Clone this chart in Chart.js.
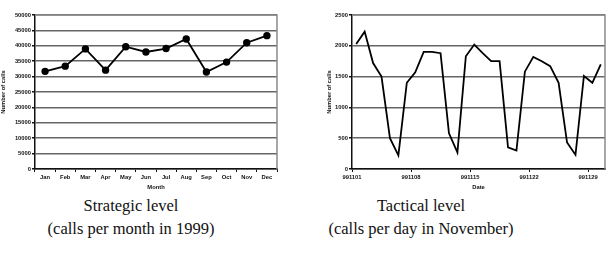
<!DOCTYPE html>
<html>
<head>
<meta charset="utf-8">
<script src="https://cdn.jsdelivr.net/npm/chart.js@4.4.1/dist/chart.umd.min.js"></script>
<style>
  body { margin: 0; background: #fff; width: 609px; height: 254px; overflow: hidden; position: relative; }
  .box { position: absolute; top: 0; }
  .cap { position: absolute; font-family: "Liberation Serif", "DejaVu Serif", serif; font-size: 16.5px; color: #111; text-align: center; white-space: nowrap; }
</style>
</head>
<body>
<div class="box" style="left:0;width:300px;height:195px"><canvas id="monthChart" width="300" height="195"></canvas></div>
<div class="box" style="left:300px;width:309px;height:195px"><canvas id="dayChart" width="309" height="195"></canvas></div>
<div class="cap" style="left:31px;width:200px;top:196px">Strategic level</div>
<div class="cap" style="left:31px;width:200px;top:219px">(calls per month in 1999)</div>
<div class="cap" style="left:321px;width:200px;top:196px">Tactical level</div>
<div class="cap" style="left:321px;width:200px;top:219px">(calls per day in November)</div>
<script>
const months = ["Jan", "Feb", "Mar", "Apr", "May", "Jun", "Jul", "Aug", "Sep", "Oct", "Nov", "Dec"];
const monthCalls = [31700, 33400, 39000, 32100, 39700, 38000, 39100, 42200, 31500, 34700, 41000, 43300];

const days = ["991101", "991102", "991103", "991104", "991105", "991106", "991107",
              "991108", "991109", "991110", "991111", "991112", "991113", "991114",
              "991115", "991116", "991117", "991118", "991119", "991120", "991121",
              "991122", "991123", "991124", "991125", "991126", "991127", "991128",
              "991129", "991130"];
const dayCalls = [2030, 2230, 1720, 1500, 500, 220, 1400, 1570, 1900, 1900,
                  1880, 580, 270, 1830, 2020, 1880, 1750, 1750, 350, 300,
                  1580, 1820, 1750, 1670, 1400, 430, 230, 1510, 1400, 1700];
const dayTickIdx = [0, 7, 14, 21, 28];

const smallFont = { family: "'Liberation Sans', Arial, sans-serif", size: 5.8, weight: "bold" };
Chart.defaults.color = "#111";
Chart.defaults.animation = false;

// grey frame on top and right, like the spreadsheet plot area
const frame = {
    id: "frame",
    afterDraw(chart) {
        const a = chart.chartArea, ctx = chart.ctx;
        ctx.save();
        ctx.strokeStyle = "#8a8a8a";
        ctx.lineWidth = 1.5;
        ctx.beginPath();
        ctx.moveTo(a.left, a.top);
        ctx.lineTo(a.right, a.top);
        ctx.lineTo(a.right, a.bottom);
        ctx.stroke();
        ctx.restore();
    }
};

function yScale(max, step, width) {
    return {
        min: 0, max: max,
        ticks: { stepSize: step, font: smallFont, padding: 1, callback: v => String(v) },
        border: { color: "#111", width: 1.5 },
        grid: { color: "#666", lineWidth: 1.5, tickLength: 3, tickColor: "#111" },
        title: { display: true, text: "Number of calls", font: smallFont, padding: { top: 0, bottom: 0 } },
        afterFit: s => { s.width = width; }
    };
}

new Chart(document.getElementById("monthChart"), {
    type: "line",
    data: {
        labels: months,
        datasets: [{
            data: monthCalls,
            borderColor: "#000",
            backgroundColor: "#000",
            borderWidth: 1.8,
            pointRadius: 2.8,
            pointHoverRadius: 2.8,
            tension: 0
        }]
    },
    options: {
        responsive: false,
        layout: { padding: { left: 0, right: 23, top: 15, bottom: 0 } },
        plugins: { legend: { display: false }, tooltip: { enabled: false } },
        scales: {
            x: {
                offset: true,
                ticks: { font: smallFont, padding: 2, maxRotation: 0, autoSkip: false },
                border: { color: "#111", width: 1.5 },
                grid: { offset: true, drawOnChartArea: false, tickLength: 3, color: "#111" },
                title: { display: true, text: "Month", font: smallFont, padding: { top: 2, bottom: 4 } },
                afterFit: s => { s.height = 26; }
            },
            y: yScale(50000, 5000, 35)
        }
    },
    plugins: [frame]
});

new Chart(document.getElementById("dayChart"), {
    type: "line",
    data: {
        datasets: [{
            data: dayCalls.map((v, i) => ({ x: i + 1, y: v })),
            borderColor: "#000",
            borderWidth: 1.8,
            pointRadius: 0,
            tension: 0
        }]
    },
    options: {
        responsive: false,
        layout: { padding: { left: 26, right: 4, top: 15, bottom: 0 } },
        plugins: { legend: { display: false }, tooltip: { enabled: false } },
        scales: {
            x: {
                type: "linear",
                min: 0.5, max: 30.5,
                afterBuildTicks: s => { s.ticks = dayTickIdx.map(i => ({ value: i + 0.5 })); },
                ticks: {
                    font: smallFont, padding: 2, maxRotation: 0, autoSkip: false,
                    callback: v => days[Math.round(v - 0.5)]
                },
                border: { color: "#111", width: 1.5 },
                grid: { drawOnChartArea: false, tickLength: 3, color: "#111" },
                title: { display: true, text: "Date", font: smallFont, padding: { top: 2, bottom: 4 } },
                afterFit: s => { s.height = 26; }
            },
            y: yScale(2500, 500, 26)
        }
    },
    plugins: [frame]
});
</script>
</body>
</html>
